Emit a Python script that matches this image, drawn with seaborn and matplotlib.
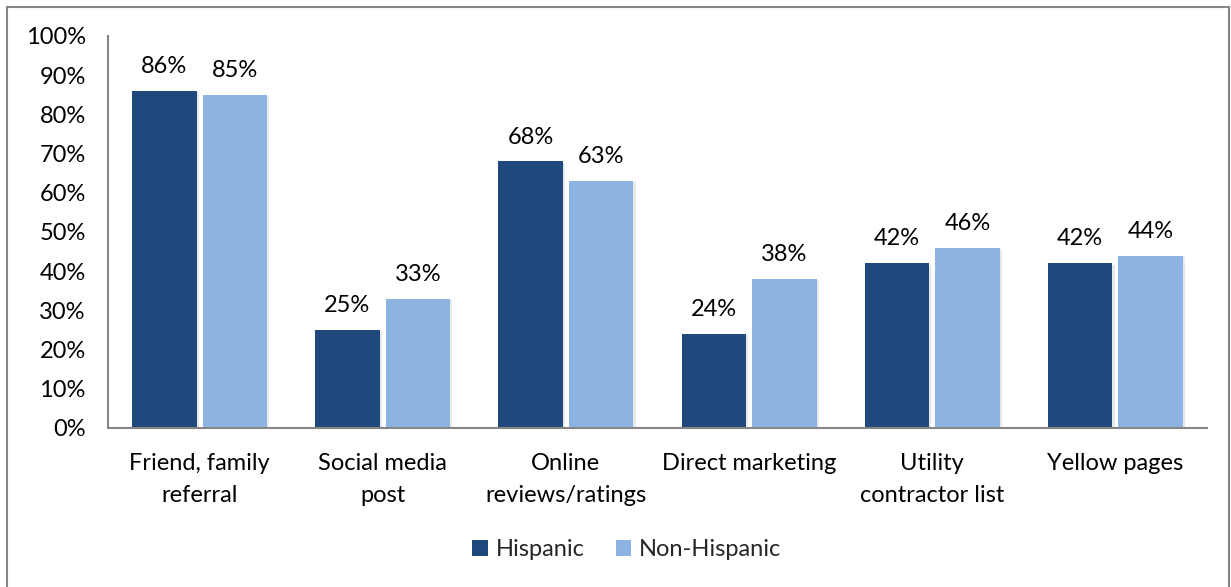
import matplotlib
matplotlib.use("Agg")
import matplotlib.pyplot as plt
import matplotlib.patheffects as pe
from matplotlib.patches import Rectangle
import pandas as pd
import seaborn as sns

categories = ["Friend, family\nreferral", "Social media\npost", "Online\nreviews/ratings",
              "Direct marketing", "Utility\ncontractor list", "Yellow pages"]
hispanic = [86, 25, 68, 24, 42, 42]
non_hispanic = [85, 33, 63, 38, 46, 44]
series = ["Hispanic", "Non-Hispanic"]
colors = ["#1F497D", "#8DB3E2"]
yticks = [0, 10, 20, 30, 40, 50, 60, 70, 80, 90, 100]

df = pd.DataFrame({
    "category": categories * 2,
    "value": hispanic + non_hispanic,
    "group": [series[0]] * len(categories) + [series[1]] * len(categories),
})

sns.set_theme(style="white")
plt.rcParams["font.family"] = ["Lato", "DejaVu Sans"]
FS = 17

fig = plt.figure(figsize=(12.31, 5.87), dpi=100)
ax = fig.add_axes([108 / 1231, 1 - 428 / 587, (1207 - 108) / 1231, (428 - 36) / 587])

sns.barplot(data=df, x="category", y="value", hue="group", palette=colors,
            width=0.77, gap=0.085, ax=ax, legend=False, saturation=1)

for bar in ax.patches:
    bar.set_linewidth(0)
    bar.set_path_effects([pe.SimplePatchShadow(offset=(1.5, -1), shadow_rgbFace="#aaaaaa", alpha=0.25),
                          pe.Normal()])

for container in ax.containers:
    ax.bar_label(container, labels=[f"{v:.0f}%" for v in container.datavalues],
                 padding=10, fontsize=FS, color="#000000")

ax.set_ylim(0, 100)
ax.set_xlim(-0.5, len(categories) - 0.5)
ax.set_yticks(yticks)
ax.set_yticklabels([f"{t}%" for t in yticks], fontsize=FS, color="#000000")
ax.tick_params(axis="y", length=0, pad=16)
ax.tick_params(axis="x", length=0, pad=18, labelsize=FS, labelcolor="#000000")
for lbl in ax.get_xticklabels():
    lbl.set_linespacing(1.65)
ax.set_xlabel("")
ax.set_ylabel("")

for side in ["top", "right"]:
    ax.spines[side].set_visible(False)
for side in ["left", "bottom"]:
    ax.spines[side].set_color("#868686")
    ax.spines[side].set_linewidth(1.5)

handles = [Rectangle((0, 0), 1, 1, facecolor=c, edgecolor="none") for c in colors]
fig.legend(handles, series, loc="center", bbox_to_anchor=(627 / 1231, 1 - 550 / 587),
           ncol=2, frameon=False, fontsize=FS, handlelength=0.65, handleheight=0.65,
           handletextpad=0.35, columnspacing=1.3)

fig.patches.append(Rectangle((7 / 1231, -0.01), (1229 - 7) / 1231, 1 - 7 / 587 + 0.01,
                             transform=fig.transFigure, fill=False,
                             edgecolor="#868686", linewidth=1.5))

fig.savefig("out.png", dpi=100, facecolor="white")
